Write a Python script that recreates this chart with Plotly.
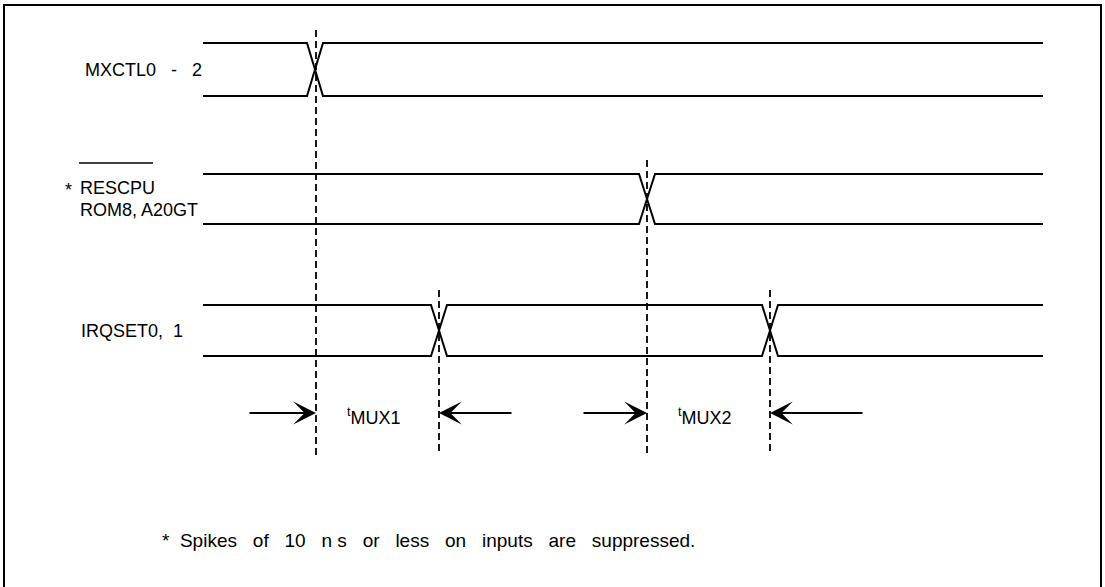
import plotly.graph_objects as go

# ---- data ----
signal_labels = ["MXCTL0   -   2", "RESCPU", "IRQSET0,  1"]
signal_sublabels = ["", "ROM8, A20GT", ""]
signal_high = [43, 174, 305]
signal_low = [96, 224, 356]
transitions = [[315], [647], [439, 770]]
t_start = 203
t_end = 1043
half_edge = 8

marker_times = [316, 439, 647, 770]
marker_tops = [30, 290, 160, 290]
marker_bottom = 455

arrow_y = 413
arrow_tails = [248, 513, 582, 864]
arrow_tips = [316, 439, 647, 770]
interval_labels = ["<sup>t</sup>MUX1", "<sup>t</sup>MUX2"]
interval_centers = [374, 705]

footnote = "*  Spikes   of   10   n s   or   less   on   inputs   are   suppressed."

FONT = "Liberation Sans"
fig = go.Figure()

# border
fig.add_trace(go.Scatter(x=[4, 4, 1101, 1101], y=[592, 5, 5, 592], mode="lines",
                         line=dict(color="black", width=2), hoverinfo="skip"))

# signals
for hi, lo, trs in zip(signal_high, signal_low, transitions):
    for start_level in (hi, lo):
        xs, ys = [t_start], [start_level]
        cur = start_level
        for t in trs:
            other = lo if cur == hi else hi
            xs += [t - half_edge, t + half_edge]
            ys += [cur, other]
            cur = other
        xs.append(t_end)
        ys.append(cur)
        fig.add_trace(go.Scatter(x=xs, y=ys, mode="lines",
                                 line=dict(color="black", width=2), hoverinfo="skip"))

# dashed reference lines
for t, top in zip(marker_times, marker_tops):
    fig.add_trace(go.Scatter(x=[t, t], y=[top, marker_bottom], mode="lines",
                             line=dict(color="black", width=1.8, dash="7px,4px"),
                             hoverinfo="skip"))

# overline on RESCPU
fig.add_trace(go.Scatter(x=[79, 153], y=[163, 163], mode="lines",
                         line=dict(color="black", width=1.5), hoverinfo="skip"))

annotations = []
# arrows
for tail, tip in zip(arrow_tails, arrow_tips):
    annotations.append(dict(x=tip, y=arrow_y, ax=tail, ay=arrow_y, xref="x", yref="y",
                            axref="x", ayref="y", text="", showarrow=True,
                            arrowhead=3, arrowsize=1.9, arrowwidth=2, arrowcolor="black"))
# interval labels
for lab, cx in zip(interval_labels, interval_centers):
    annotations.append(dict(x=cx, y=arrow_y + 3, xref="x", yref="y", text=lab,
                            showarrow=False, font=dict(family=FONT, size=18, color="black")))

# signal labels
label_x = [83, 78, 79]
for i, (lab, sub) in enumerate(zip(signal_labels, signal_sublabels)):
    mid = (signal_high[i] + signal_low[i]) / 2
    if sub:
        annotations.append(dict(x=label_x[i], y=mid - 11, xref="x", yref="y", text=lab,
                                xanchor="left", showarrow=False,
                                font=dict(family=FONT, size=18, color="black")))
        annotations.append(dict(x=label_x[i], y=mid + 11, xref="x", yref="y", text=sub,
                                xanchor="left", showarrow=False,
                                font=dict(family=FONT, size=18, color="black")))
        annotations.append(dict(x=63, y=mid - 9, xref="x", yref="y", text="*",
                                xanchor="left", showarrow=False,
                                font=dict(family=FONT, size=18, color="black")))
    else:
        annotations.append(dict(x=label_x[i], y=mid, xref="x", yref="y", text=lab,
                                xanchor="left", showarrow=False,
                                font=dict(family=FONT, size=18, color="black")))

annotations.append(dict(x=160, y=540, xref="x", yref="y", text=footnote, xanchor="left",
                        showarrow=False, font=dict(family=FONT, size=19, color="black")))

fig.update_layout(
    width=1105, height=587, margin=dict(l=0, r=0, t=0, b=0),
    paper_bgcolor="white", plot_bgcolor="white", showlegend=False,
    xaxis=dict(range=[0, 1105], visible=False, fixedrange=True),
    yaxis=dict(range=[587, 0], visible=False, fixedrange=True),
    annotations=annotations,
)
fig.write_html("out.html", config={"displayModeBar": False},
               post_script="document.body.style.margin='0';document.body.style.overflow='hidden';")
